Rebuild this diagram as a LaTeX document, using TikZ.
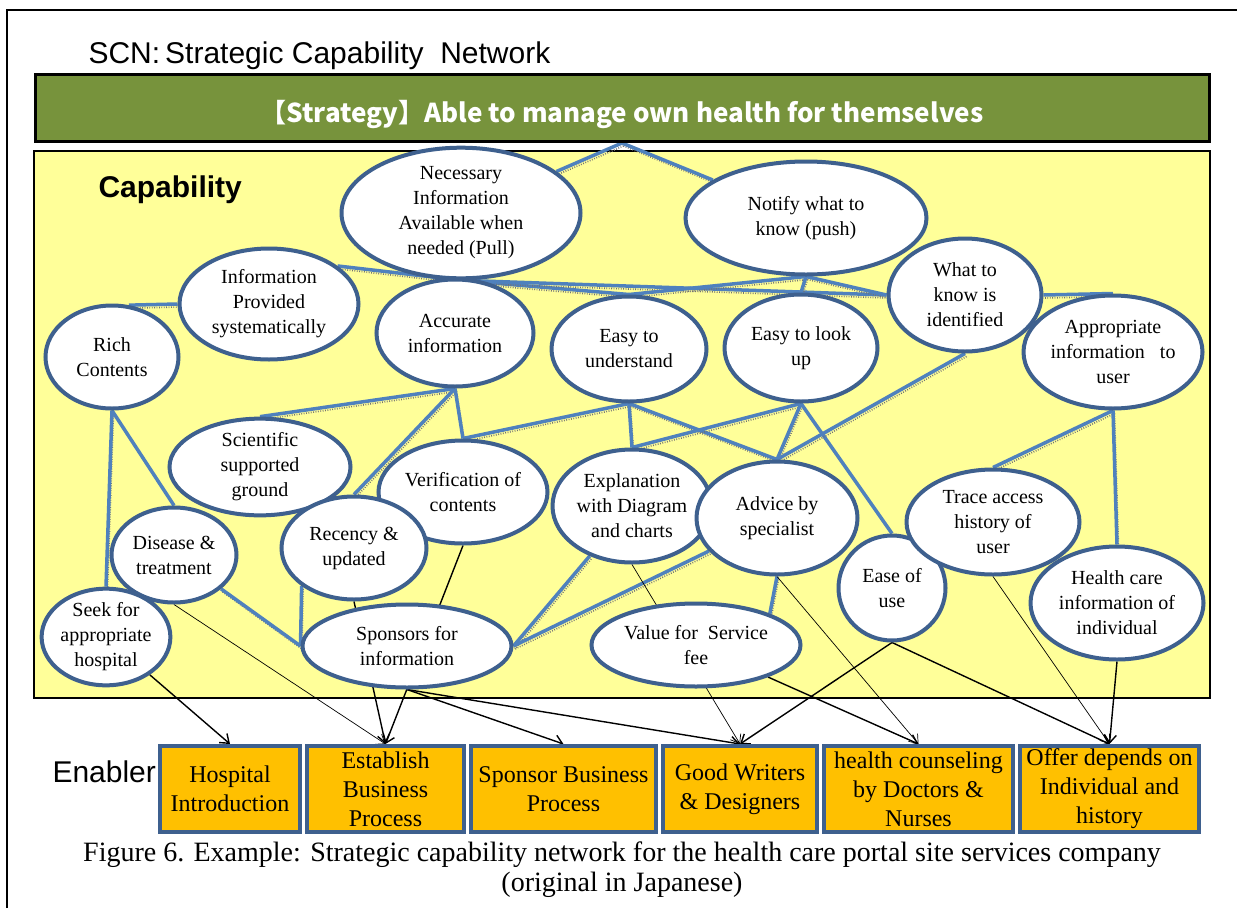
\documentclass[tikz,border=0pt]{standalone}
\usepackage{fontspec}
\setmainfont{Liberation Serif}
\setsansfont{Liberation Sans}
\newfontfamily\cjk{Noto Sans CJK JP}
\usetikzlibrary{shapes.geometric, arrows.meta, positioning}
\pgfdeclarelayer{bg}
\pgfdeclarelayer{links}
\pgfsetlayers{bg,links,main}
\definecolor{ringblue}{RGB}{62,96,142}
\definecolor{linkblue}{RGB}{79,129,189}
\definecolor{barolive}{RGB}{119,147,60}
\definecolor{capyellow}{RGB}{255,255,153}
\definecolor{enorange}{RGB}{255,192,0}
\tikzset{
  capell/.style={ellipse, draw=ringblue, line width=4pt, fill=white, inner sep=0pt, align=center, font=\fontsize{20}{25}\selectfont},
  enabler/.style={rectangle, draw=ringblue, line width=4pt, fill=enorange, minimum height=86pt, inner sep=0pt, align=center, font=\fontsize{24}{29}\selectfont},
  link/.style={draw=linkblue, line width=3.5pt, preaction={draw=black!55, line width=1.6pt, dash pattern=on 0.8pt off 1.6pt, transform canvas={shift={(1.5pt,-3pt)}}}},
  arrow/.style={-{Straight Barb[length=8pt,width=12pt]}, line width=1.4pt},
  thinarrow/.style={-{Straight Barb[length=8pt,width=12pt]}, line width=0.7pt}
}

\begin{document}
\begin{tikzpicture}[x=1pt, y=-1pt]
\useasboundingbox (0,0) rectangle (1237,908);

% frame and capability panel
\draw[line width=1.5pt] (7,908) -- (7,10) -- (1237,10);
\begin{pgfonlayer}{bg}
\draw[fill=capyellow, line width=1.8pt] (34,151) rectangle (1210,698);
\end{pgfonlayer}

\node[anchor=base west, font=\sffamily\fontsize{30}{36}\selectfont] (title) at (85,63) {SCN:\,Strategic Capability\ \ Network};
\node[rectangle, draw=black, line width=3pt, fill=barolive, minimum width=1174pt, minimum height=67pt, text=white, text height=28pt, text depth=0pt, font=\cjk\bfseries\fontsize{26}{30}\selectfont] (strategy) at (622,108) {【Strategy】Able to manage own health for themselves};
\node[anchor=base west, font=\sffamily\bfseries\fontsize{30}{36}\selectfont] (caplabel) at (95,197) {Capability};

% capabilities
\node[capell, minimum width=239pt, minimum height=103pt] (pull) at (461,213) {Necessary\\Information\\Available when\\needed (Pull)};
\node[capell, minimum width=241pt, minimum height=113pt] (push) at (806,218) {Notify what to\\know (push)};
\node[capell, minimum width=179pt, minimum height=111pt] (infosys) at (269,304) {Information\\Provided\\systematically};
\node[capell, minimum width=133pt, minimum height=103pt] (rich) at (112,357) {Rich\\Contents};
\node[capell, minimum width=157pt, minimum height=107pt] (accurate) at (455,333) {Accurate\\information};
\node[capell, minimum width=155pt, minimum height=105pt] (easyund) at (629,349) {Easy to\\understand};
\node[capell, minimum width=153pt, minimum height=107pt] (easylook) at (801,348) {Easy to look\\up};
\node[capell, minimum width=153pt, minimum height=113pt] (whatknow) at (965,295) {What to\\know is\\identified};
\node[capell, minimum width=179pt, minimum height=113pt] (approp) at (1113,352) {Appropriate\\information \ \ to\\user};
\node[capell, minimum width=181pt, minimum height=93pt] (science) at (260,467) {Scientific\\supported\\ground};
\node[capell, minimum width=169pt, minimum height=103pt] (verify) at (463,492) {Verification of\\contents};
\node[capell, minimum width=125pt, minimum height=95pt] (disease) at (174,555) {Disease \&\\treatment};
\node[capell, minimum width=145pt, minimum height=103pt] (recency) at (354,548) {Recency \&\\updated};
\node[capell, minimum width=123pt, minimum height=85pt] (seek) at (106,637) {Seek for\\appropriate\\hospital};
\node[capell, minimum width=209pt, minimum height=83pt] (sponsors) at (407,646) {Sponsors for\\information};
\node[capell, minimum width=159pt, minimum height=113pt] (explain) at (632,506) {Explanation\\with Diagram\\and charts};
\node[capell, minimum width=161pt, minimum height=113pt] (advice) at (777,518) {Advice by\\specialist};
\node[capell, minimum width=209pt, minimum height=83pt] (valuefee) at (696,645) {Value for \ Service\\fee};
\node[capell, minimum width=107pt, minimum height=105pt] (easeuse) at (892,588) {Ease of\\use};
\node[capell, minimum width=173pt, minimum height=105pt] (trace) at (993,522) {Trace access\\history of\\user};
\node[capell, minimum width=173pt, minimum height=113pt] (healthinfo) at (1117,603) {Health care\\information of\\individual};

% enablers
\node[anchor=base west, font=\sffamily\fontsize{30}{36}\selectfont] (enlabel) at (49,782) {Enabler};
\node[enabler, minimum width=140pt] (hosp) at (230,789) {Hospital\\Introduction};
\node[enabler, minimum width=157pt, right=3pt of hosp] (estab) {Establish\\Business\\Process};
\node[enabler, minimum width=185pt, right=3pt of estab] (sponbiz) {Sponsor Business\\Process};
\node[enabler, minimum width=154pt, right=3pt of sponbiz] (writers) {Good Writers\\\& Designers};
\node[enabler, minimum width=189pt, right=3pt of writers] (counsel) {health counseling\\by Doctors \&\\Nurses};
\node[enabler, minimum width=179pt, right=3pt of counsel] (offer) {Offer depends on\\Individual and\\history};

\node[align=center, font=\fontsize{28}{30}\selectfont] (caption) at (622,870) {Figure 6. Example: Strategic capability network for the health care portal site services company\\(original in Japanese)};

\begin{pgfonlayer}{links}
% strategy to top capabilities
\draw[link] (strategy.south) -- (pull);
\draw[link] (strategy.south) -- (push);
% second level
\draw[link] (pull.south) -- (infosys.29);
\draw[link] (pull.south) -- (accurate.north);
\draw[link] (pull.south) -- (easyund.north);
\draw[link] (pull.south) -- (whatknow.west);
\draw[link] (push.south) -- (easyund.north);
\draw[link] (push.south) -- (easylook.north);
\draw[link] (push.south) -- (whatknow.west);
\draw[link] (infosys.west) -- (rich.72);
\draw[link] (whatknow.east) -- (approp.north);
% third level
\draw[link] (rich.south) -- (seek.north);
\draw[link] (rich.south) -- (disease.north);
\draw[link] (accurate.south) -- (science.north);
\draw[link] (accurate.south) -- (recency.north);
\draw[link] (accurate.south) -- (verify.north);
\draw[link] (easyund.south) -- (verify.north);
\draw[link] (easyund.south) -- (explain.north);
\draw[link] (easyund.south) -- (advice.north);
\draw[link] (easylook.south) -- (explain.north);
\draw[link] (easylook.south) -- (advice.north);
\draw[link] (easylook.south) -- (easeuse.north);
\draw[link] (whatknow.south) -- (advice.north);
\draw[link] (approp.south) -- (trace.north);
\draw[link] (approp.south) -- (healthinfo.north);
\draw[link] (disease) -- (sponsors.west);
\draw[link] (recency.216) -- (sponsors.west);
\draw[link] (explain) -- (sponsors.east);
\draw[link] (advice) -- (sponsors.east);
\draw[link] (advice.south) -- (valuefee.23);

% capabilities to enablers
\draw[arrow] (seek) -- (hosp.north);
\draw[thinarrow] (disease.south) -- (estab.north);
\draw[arrow] (recency.south) -- (estab.north);
\draw[arrow] (verify.south) -- (estab.north);
\draw[arrow] (sponsors.south) -- (sponbiz.north);
\draw[arrow] (sponsors.south) -- (writers.north);
\draw[thinarrow] (explain.south) -- (writers.north);
\draw[arrow] (easeuse.south) -- (writers.north);
\draw[thinarrow] (advice.south) -- (counsel.north);
\draw[arrow] (valuefee) -- (counsel.north);
\draw[arrow] (easeuse.south) -- (offer.north);
\draw[thinarrow] (trace.south) -- (offer.north);
\draw[arrow] (healthinfo.south) -- (offer.north);
\end{pgfonlayer}
\end{tikzpicture}
\end{document}
